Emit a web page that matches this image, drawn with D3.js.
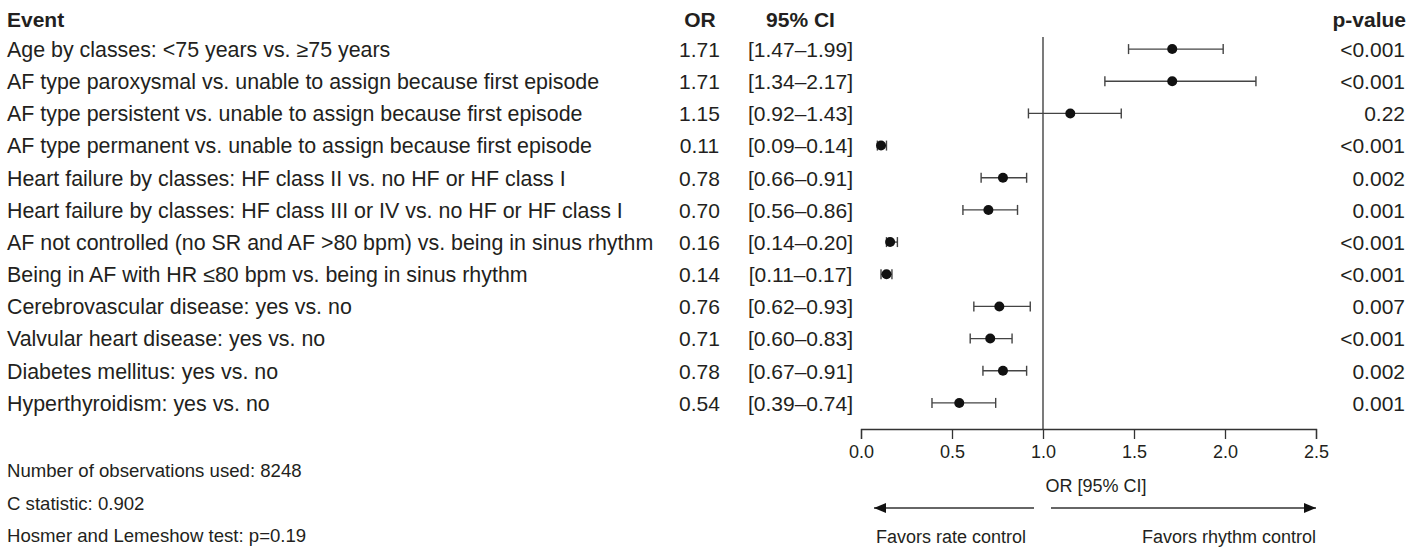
<!DOCTYPE html>
<html>
<head>
<meta charset="utf-8">
<script src="https://cdn.jsdelivr.net/npm/d3@7"></script>
<style>
  body { margin: 0; background: #fff; }
  svg text { font-family: "Liberation Sans", Arial, sans-serif; fill: #231f20; }
</style>
</head>
<body>
<svg id="chart" width="1424" height="548"></svg>
<script>
var events = [
  "Age by classes: <75 years vs. \u226575 years",
  "AF type paroxysmal vs. unable to assign because first episode",
  "AF type persistent vs. unable to assign because first episode",
  "AF type permanent vs. unable to assign because first episode",
  "Heart failure by classes: HF class II vs. no HF or HF class I",
  "Heart failure by classes: HF class III or IV vs. no HF or HF class I",
  "AF not controlled (no SR and AF >80 bpm) vs. being in sinus rhythm",
  "Being in AF with HR \u226480 bpm vs. being in sinus rhythm",
  "Cerebrovascular disease: yes vs. no",
  "Valvular heart disease: yes vs. no",
  "Diabetes mellitus: yes vs. no",
  "Hyperthyroidism: yes vs. no"
];
var or = [1.71, 1.71, 1.15, 0.11, 0.78, 0.70, 0.16, 0.14, 0.76, 0.71, 0.78, 0.54];
var lo = [1.47, 1.34, 0.92, 0.09, 0.66, 0.56, 0.14, 0.11, 0.62, 0.60, 0.67, 0.39];
var hi = [1.99, 2.17, 1.43, 0.14, 0.91, 0.86, 0.20, 0.17, 0.93, 0.83, 0.91, 0.74];
var pvals = ["<0.001", "<0.001", "0.22", "<0.001", "0.002", "0.001", "<0.001", "<0.001", "0.007", "<0.001", "0.002", "0.001"];
var xTicks = [0, 0.5, 1.0, 1.5, 2.0, 2.5];
var notes = ["Number of observations used: 8248", "C statistic: 0.902", "Hosmer and Lemeshow test: p=0.19"];

var svg = d3.select("#chart");
var fmt2 = d3.format(".2f");

var x = d3.scaleLinear().domain([0, 2.5]).range([861, 1316]);
var y = d3.scaleBand().domain(d3.range(events.length)).range([33, 419]);
var yc = function (i) { return y(i) + y.bandwidth() / 2; };

// headers
var hdr = svg.append("g").attr("font-weight", "bold").attr("font-size", 21);
hdr.append("text").attr("x", 7).attr("y", 27).text("Event");
hdr.append("text").attr("x", 700).attr("y", 27).attr("text-anchor", "middle").text("OR");
hdr.append("text").attr("x", 800.5).attr("y", 27).attr("text-anchor", "middle").text("95% CI");
hdr.append("text").attr("x", 1406).attr("y", 27).attr("text-anchor", "end").text("p-value");

// table rows
var rows = svg.append("g").attr("font-size", 21)
  .selectAll("g").data(events).join("g")
  .attr("transform", function (d, i) { return "translate(0," + (yc(i) + 7.8) + ")"; });
rows.append("text").attr("x", 7).attr("font-size", 21.4).text(function (d) { return d; });
rows.append("text").attr("x", 699.5).attr("text-anchor", "middle").text(function (d, i) { return fmt2(or[i]); });
rows.append("text").attr("x", 800.5).attr("text-anchor", "middle")
  .text(function (d, i) { return "[" + fmt2(lo[i]) + "\u2013" + fmt2(hi[i]) + "]"; });
rows.append("text").attr("x", 1405).attr("text-anchor", "end").text(function (d, i) { return pvals[i]; });

// reference line at OR = 1
svg.append("line")
  .attr("x1", x(1)).attr("x2", x(1)).attr("y1", 37).attr("y2", 429)
  .attr("stroke", "#333").attr("stroke-width", 1.3);

// CI whiskers and points
var ci = svg.append("g").selectAll("g").data(events).join("g");
ci.append("line")
  .attr("x1", function (d, i) { return x(lo[i]); })
  .attr("x2", function (d, i) { return x(hi[i]); })
  .attr("y1", function (d, i) { return yc(i); })
  .attr("y2", function (d, i) { return yc(i); })
  .attr("stroke", "#444").attr("stroke-width", 1.4);
[lo, hi].forEach(function (arr) {
  ci.append("line")
    .attr("x1", function (d, i) { return x(arr[i]); })
    .attr("x2", function (d, i) { return x(arr[i]); })
    .attr("y1", function (d, i) { return yc(i) - 5; })
    .attr("y2", function (d, i) { return yc(i) + 5; })
    .attr("stroke", "#444").attr("stroke-width", 1.4);
});
ci.append("circle")
  .attr("cx", function (d, i) { return x(or[i]); })
  .attr("cy", function (d, i) { return yc(i); })
  .attr("r", 5).attr("fill", "#111");

// x axis
var ax = svg.append("g").attr("transform", "translate(0,429)")
  .call(d3.axisBottom(x).tickValues(xTicks).tickFormat(d3.format(".1f")).tickSize(10).tickPadding(6));
ax.select(".domain").attr("stroke", "#333").attr("stroke-width", 1.3);
ax.selectAll(".tick line").attr("stroke", "#333").attr("stroke-width", 1.3);
ax.selectAll(".tick text").attr("font-size", 18).attr("font-family", "Liberation Sans, Arial, sans-serif").attr("fill", "#231f20");

svg.append("text").attr("x", 1096).attr("y", 492).attr("text-anchor", "middle").attr("font-size", 18).text("OR [95% CI]");

// direction arrows
var defs = svg.append("defs");
defs.append("marker").attr("id", "arrow").attr("viewBox", "0 0 12 10")
  .attr("refX", 12).attr("refY", 5).attr("markerWidth", 12).attr("markerHeight", 10)
  .attr("markerUnits", "userSpaceOnUse").attr("orient", "auto")
  .append("path").attr("d", "M0,0 L12,5 L0,10 Z").attr("fill", "#111");
svg.append("line").attr("x1", 1034).attr("x2", x(0) + 13).attr("y1", 508).attr("y2", 508)
  .attr("stroke", "#333").attr("stroke-width", 1.3).attr("marker-end", "url(#arrow)");
svg.append("line").attr("x1", 1051).attr("x2", x(2.5)).attr("y1", 508).attr("y2", 508)
  .attr("stroke", "#333").attr("stroke-width", 1.3).attr("marker-end", "url(#arrow)");
svg.append("text").attr("x", 876).attr("y", 543).attr("font-size", 18).text("Favors rate control");
svg.append("text").attr("x", 1316).attr("y", 543).attr("text-anchor", "end").attr("font-size", 18).text("Favors rhythm control");

// model notes
svg.append("g").attr("font-size", 18.6).selectAll("text").data(notes).join("text")
  .attr("x", 7).attr("y", function (d, i) { return 477 + i * 32.5; }).text(function (d) { return d; });
</script>
</body>
</html>
